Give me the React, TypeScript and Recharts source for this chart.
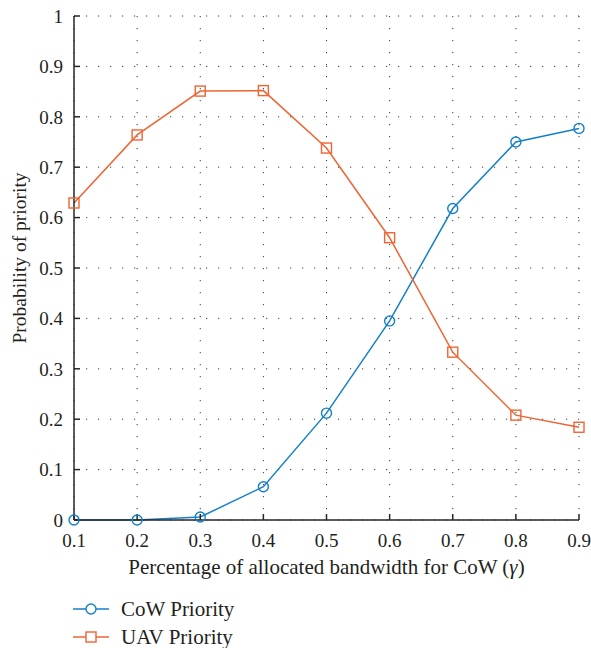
import { CartesianGrid, Legend, Line, LineChart, XAxis, YAxis } from "recharts";

// bandwidth share for CoW (gamma)
const gammaValues = [0.1, 0.2, 0.3, 0.4, 0.5, 0.6, 0.7, 0.8, 0.9];
const cowPriority = [0, 0, 0.006, 0.066, 0.212, 0.395, 0.618, 0.75, 0.777];
const uavPriority = [0.629, 0.764, 0.851, 0.852, 0.738, 0.56, 0.333, 0.208, 0.184];

const xTicks = [0.1, 0.2, 0.3, 0.4, 0.5, 0.6, 0.7, 0.8, 0.9];
const yTicks = [0, 0.1, 0.2, 0.3, 0.4, 0.5, 0.6, 0.7, 0.8, 0.9, 1];
const xMinorTicks = [
  0.12, 0.14, 0.16, 0.18, 0.22, 0.24, 0.26, 0.28, 0.32, 0.34, 0.36, 0.38,
  0.42, 0.44, 0.46, 0.48, 0.52, 0.54, 0.56, 0.58, 0.62, 0.64, 0.66, 0.68,
  0.72, 0.74, 0.76, 0.78, 0.82, 0.84, 0.86, 0.88,
];
const yMinorTicks = [
  0.025, 0.05, 0.075, 0.125, 0.15, 0.175, 0.225, 0.25, 0.275, 0.325, 0.35, 0.375,
  0.425, 0.45, 0.475, 0.525, 0.55, 0.575, 0.625, 0.65, 0.675, 0.725, 0.75, 0.775,
  0.825, 0.85, 0.875, 0.925, 0.95, 0.975,
];

const data = gammaValues.map((g, i) => ({ gamma: g, cow: cowPriority[i], uav: uavPriority[i] }));

const FONT = "Liberation Serif, Times New Roman, serif";
const TEXT = "#231f20";
const AXIS = "#262626";
const BLUE = "#1480c8";
const ORANGE = "#f06434";

const tickStyle = { fill: TEXT, fontSize: 19, fontFamily: FONT };

function SquareDot(props: any) {
  const { cx, cy, index } = props;
  return (
    <rect key={`sq-${index}`} x={cx - 5} y={cy - 5} width={10} height={10} fill="none" stroke={ORANGE} strokeWidth={1.4} />
  );
}

function LegendContent() {
  const rows = [
    { name: "CoW Priority", color: BLUE, shape: "circle" },
    { name: "UAV Priority", color: ORANGE, shape: "square" },
  ];
  return (
    <svg width={220} height={60}>
      {rows.map((r, i) => {
        const y = 14 + i * 28;
        return (
          <g key={r.name}>
            <line x1={1} x2={37} y1={y} y2={y} stroke={r.color} strokeWidth={1.5} />
            {r.shape === "circle" ? (
              <circle cx={19} cy={y} r={5} fill="#fff" stroke={r.color} strokeWidth={1.4} />
            ) : (
              <rect x={14} y={y - 5} width={10} height={10} fill="#fff" stroke={r.color} strokeWidth={1.4} />
            )}
            <text x={49} y={y + 7} fontSize={21} fontFamily={FONT} fill={TEXT}>
              {r.name}
            </text>
          </g>
        );
      })}
    </svg>
  );
}

export default function App() {
  return (
    <div style={{ position: "absolute", left: 0, top: 0, width: 591, height: 648, background: "#fff" }}>
      <LineChart width={591} height={648} data={data} margin={{ top: 16, right: 12, left: 14, bottom: 0 }}>
        <CartesianGrid
          xAxisId="x"
          yAxisId="y"
          stroke="#3a3a3a"
          strokeDasharray="1.2 10.8"
          horizontalValues={yTicks}
          verticalValues={xTicks}
        />
        <XAxis
          xAxisId="x"
          dataKey="gamma"
          type="number"
          domain={[0.1, 0.9]}
          ticks={xTicks}
          interval={0}
          height={128}
          tick={tickStyle}
          tickSize={-6}
          tickMargin={20}
          stroke={AXIS}
          strokeWidth={1.5}
          label={{
            content: ({ viewBox }: any) => (
              <text
                x={viewBox.x + viewBox.width / 2}
                y={viewBox.y + 54}
                textAnchor="middle"
                fontSize={21}
                fontFamily={FONT}
                fill={TEXT}
              >
                Percentage of allocated bandwidth for CoW (<tspan fontStyle="italic">γ</tspan>)
              </text>
            ),
          }}
        />
        <XAxis
          xAxisId="xminor"
          type="number"
          domain={[0.1, 0.9]}
          ticks={xMinorTicks}
          interval={0}
          height={0}
          tick={false}
          tickSize={-3}
          axisLine={false}
          stroke={AXIS}
        />
        <XAxis
          xAxisId="top"
          orientation="top"
          type="number"
          domain={[0.1, 0.9]}
          ticks={xTicks}
          interval={0}
          height={0}
          tick={false}
          tickSize={-6}
          stroke={AXIS}
          strokeWidth={1.5}
        />
        <XAxis
          xAxisId="topminor"
          orientation="top"
          type="number"
          domain={[0.1, 0.9]}
          ticks={xMinorTicks}
          interval={0}
          height={0}
          tick={false}
          tickSize={-3}
          axisLine={false}
          stroke={AXIS}
        />
        <YAxis
          yAxisId="y"
          type="number"
          domain={[0, 1]}
          ticks={yTicks}
          interval={0}
          width={60}
          tick={tickStyle}
          tickSize={-6}
          tickMargin={17}
          stroke={AXIS}
          strokeWidth={1.5}
          label={{
            content: ({ viewBox }: any) => {
              const cx = 19;
              const cy = viewBox.y + viewBox.height / 2 - 10;
              return (
                <text
                  x={cx}
                  y={cy}
                  transform={`rotate(-90, ${cx}, ${cy})`}
                  textAnchor="middle"
                  dominantBaseline="central"
                  fontSize={19.5}
                  fontFamily={FONT}
                  fill={TEXT}
                >
                  Probability of priority
                </text>
              );
            },
          }}
        />
        <YAxis
          yAxisId="yminor"
          type="number"
          domain={[0, 1]}
          ticks={yMinorTicks}
          interval={0}
          width={0}
          tick={false}
          tickSize={-4}
          axisLine={false}
          stroke={AXIS}
        />
        <YAxis
          yAxisId="right"
          orientation="right"
          type="number"
          domain={[0, 1]}
          ticks={yTicks}
          interval={0}
          width={0}
          tick={false}
          tickSize={-6}
          stroke={AXIS}
          strokeWidth={1.5}
        />
        <YAxis
          yAxisId="rightminor"
          orientation="right"
          type="number"
          domain={[0, 1]}
          ticks={yMinorTicks}
          interval={0}
          width={0}
          tick={false}
          tickSize={-4}
          axisLine={false}
          stroke={AXIS}
        />
        <Legend
          layout="vertical"
          align="center"
          verticalAlign="middle"
          content={LegendContent}
          wrapperStyle={{ position: "absolute", left: 72, top: 595, width: 220, height: 60 }}
        />
        <Line
          xAxisId="x"
          yAxisId="y"
          type="linear"
          dataKey="cow"
          name="CoW Priority"
          stroke={BLUE}
          strokeWidth={1.5}
          dot={{ r: 5, fill: "none", stroke: BLUE, strokeWidth: 1.4 }}
          activeDot={false}
          isAnimationActive={false}
        />
        <Line
          xAxisId="x"
          yAxisId="y"
          type="linear"
          dataKey="uav"
          name="UAV Priority"
          stroke={ORANGE}
          strokeWidth={1.5}
          dot={SquareDot}
          activeDot={false}
          isAnimationActive={false}
        />
      </LineChart>
    </div>
  );
}
